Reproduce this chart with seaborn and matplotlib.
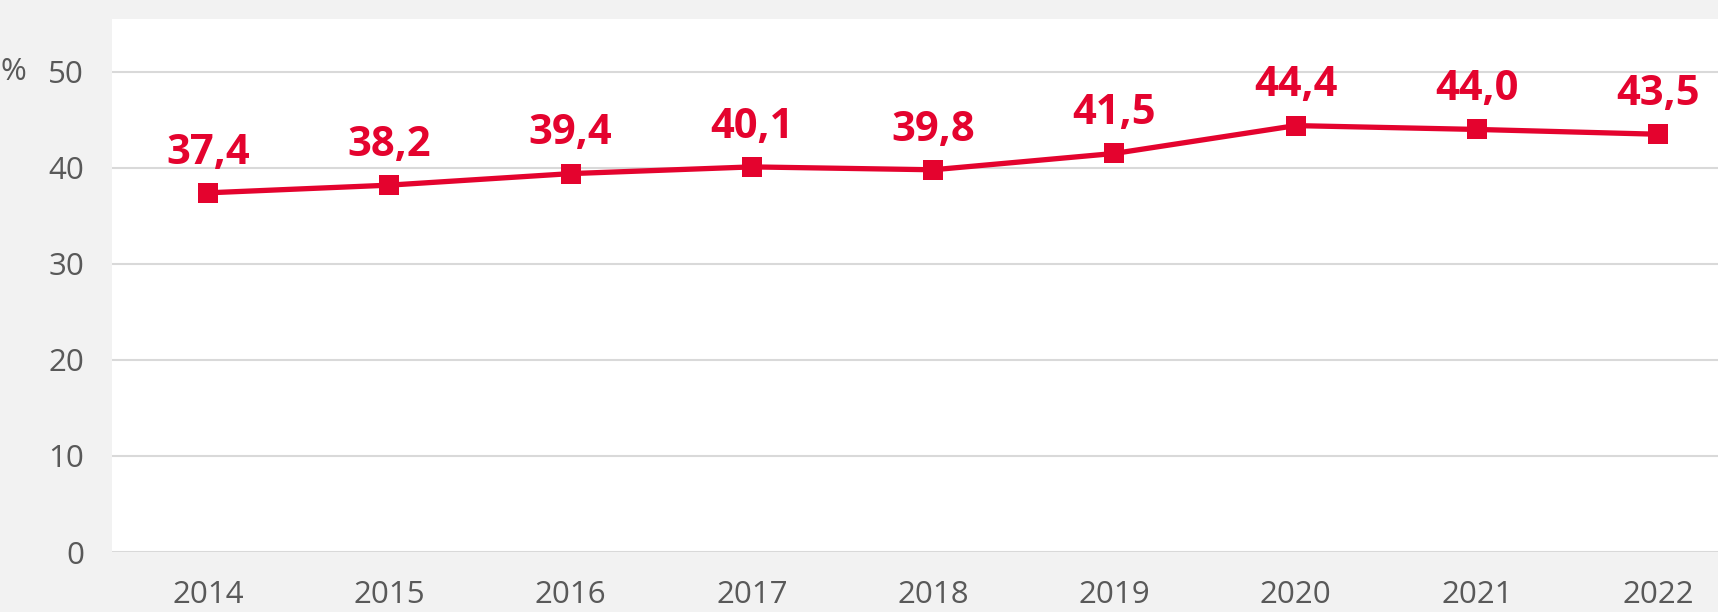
import pandas as pd
import matplotlib.pyplot as plt
import seaborn as sns

years = ["2014", "2015", "2016", "2017", "2018", "2019", "2020", "2021", "2022"]
values = [37.4, 38.2, 39.4, 40.1, 39.8, 41.5, 44.4, 44.0, 43.5]
labels = ["37,4", "38,2", "39,4", "40,1", "39,8", "41,5", "44,4", "44,0", "43,5"]
yticks = [0, 10, 20, 30, 40, 50]

red = "#E4032E"
grey_text = "#595959"

sns.set_theme(style="white")
plt.rcParams["font.family"] = ["Open Sans", "DejaVu Sans"]

df = pd.DataFrame({"year": years, "value": values})
df["pos"] = range(len(df))

fig = plt.figure(figsize=(17.18, 6.12), dpi=100, facecolor="#F2F2F2")
ax = fig.add_axes([112 / 1718, 1 - 552 / 612, 1 - 112 / 1718, (552 - 19) / 612])
ax.set_facecolor("white")

for y in yticks:
    ax.axhline(y, color="#D9D9D9", lw=1.5, zorder=0)

sns.lineplot(data=df, x="pos", y="value", ax=ax, color=red, lw=3.8,
             marker="s", markersize=14, markeredgewidth=0, zorder=3)

# value labels above each point
for i, (v, lab) in enumerate(zip(values, labels)):
    ax.annotate(lab, (i, v), xytext=(0, 21), textcoords="offset points",
                ha="center", va="baseline", color=red, fontsize=30,
                fontweight="bold")

ax.set_xlim(-0.53, 8.33)
ax.set_ylim(0, 55.5)
ax.set_xticks(range(len(years)))
ax.set_xticklabels(years)
ax.set_yticks(yticks)
ax.tick_params(axis="both", length=0, labelsize=22.5, labelcolor=grey_text)
ax.tick_params(axis="y", pad=20)
ax.tick_params(axis="x", pad=20)
ax.set_xlabel("")
ax.set_ylabel("")
for s in ax.spines.values():
    s.set_visible(False)

fig.text(0.0, 1 - 72 / 612, "%", fontsize=22.5, color=grey_text, va="center", ha="left")

fig.savefig("out.png", dpi=100, facecolor=fig.get_facecolor())
